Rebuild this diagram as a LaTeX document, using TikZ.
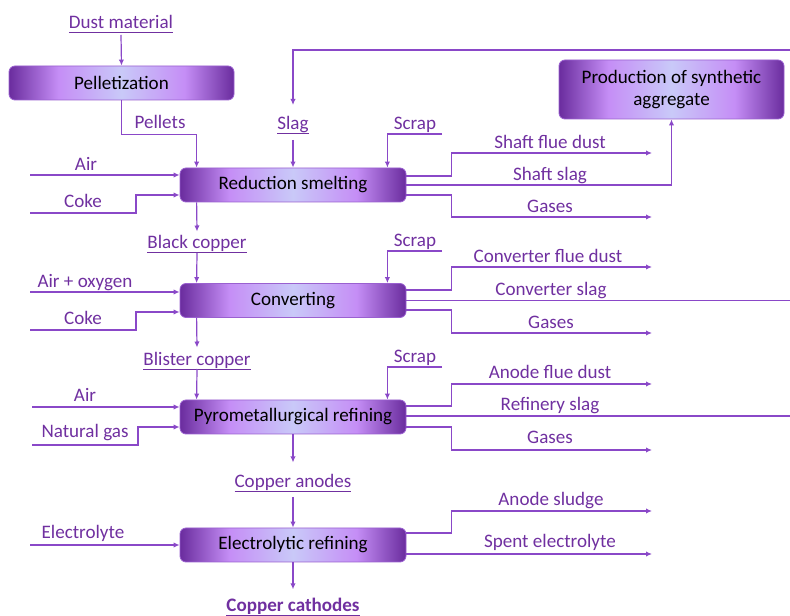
\documentclass[tikz,border=0pt]{standalone}
\usepackage{fontspec}
\setmainfont{Carlito}
\usetikzlibrary{arrows.meta,calc}
\definecolor{pline}{HTML}{8A48C8}
\definecolor{ptext}{HTML}{7030A0}
\definecolor{bdark}{HTML}{6A2C9E}
\definecolor{bviol}{HTML}{C58EF6}
\definecolor{blav}{HTML}{C9C9F8}
\definecolor{bborder}{HTML}{9A60D0}
\pgfdeclarehorizontalshading{procshade}{100bp}{color(0bp)=(bdark); color(25bp)=(bdark); color(36bp)=(bviol); color(50bp)=(blav); color(64bp)=(bviol); color(75bp)=(bdark); color(100bp)=(bdark)}
\newcommand\ulx[1]{\underline{\raisebox{0pt}[\height][0pt]{#1}\rule[-1.3pt]{0pt}{0pt}}}
\begin{document}
\begin{tikzpicture}[x=0.75pt,y=-0.75pt,
  font=\fontsize{14.3}{17}\selectfont,
  proc/.style={draw=bborder, line width=0.6pt, rounded corners=4.5pt, shading=procshade,
    minimum width=226*0.75pt, minimum height=34*0.75pt, text=black, inner sep=0pt},
  lab/.style={text=ptext, inner sep=0pt, anchor=base},
  flow/.style={draw=pline, line width=0.9pt},
  arr/.style={flow, -{Latex[length=4.5pt,width=4pt]}}]
\useasboundingbox (0,0) rectangle (790,616);

% process boxes
\node[proc, minimum width=225*0.75pt] (pel) at (121.5,83) {Pelletization};
\node[proc] (rs) at (293,185) {Reduction smelting};
\node[proc, minimum width=225*0.75pt, minimum height=59*0.75pt, align=center] (psa) at (671.5,89.5) {Production of synthetic\\aggregate};
\node[proc] (cv) at (293,300.5) {Converting};
\node[proc] (pr) at (293,417) {Pyrometallurgical refining};
\node[proc] (er) at (293,545) {Electrolytic refining};

% labels
\node[lab] (dust) at (121,29) {\ulx{Dust material}};
\node[lab] (pellets) at (160,129) {Pellets};
\node[lab] (slag) at (293,130) {\ulx{Slag}};
\node[lab] (scrap1) at (415,130) {Scrap};
\node[lab] (air1) at (86,171) {Air};
\node[lab] (coke1) at (83,208) {Coke};
\node[lab] (sfd) at (550,149) {Shaft flue dust};
\node[lab] (ss) at (550,181) {Shaft slag};
\node[lab] (gas1) at (550,213) {Gases};
\node[lab] (bc) at (197,249) {\ulx{Black copper}};
\node[lab] (scrap2) at (415,247) {Scrap};
\node[lab] (airox) at (85,288) {Air + oxygen};
\node[lab] (coke2) at (83,325) {Coke};
\node[lab] (cfd) at (548,263) {Converter flue dust};
\node[lab] (cs) at (551,296) {Converter slag};
\node[lab] (gas2) at (551,329) {Gases};
\node[lab] (blc) at (197,366) {\ulx{Blister copper}};
\node[lab] (scrap3) at (415,363) {Scrap};
\node[lab] (air3) at (85,402) {Air};
\node[lab] (ng) at (85,438) {Natural gas};
\node[lab] (afd) at (550,379) {Anode flue dust};
\node[lab] (rsl) at (550,411) {Refinery slag};
\node[lab] (gas3) at (550,444) {Gases};
\node[lab] (ca) at (293,488) {\ulx{Copper anodes}};
\node[lab] (elyte) at (83,539) {Electrolyte};
\node[lab] (asl) at (551,506) {Anode sludge};
\node[lab] (se) at (550,548) {Spent electrolyte};
\node[lab] (cc) at (293,612) {\bfseries\ulx{Copper cathodes}};

% free ends
\coordinate (fbR) at (790,50);
\coordinate (air1s) at (30,175);
\coordinate (coke1s) at (30,213);
\coordinate (sfdE) at (652,153);
\coordinate (g1E) at (652,217);
\coordinate (airoxs) at (30,292);
\coordinate (coke2s) at (30,330);
\coordinate (cfdE) at (652,267);
\coordinate (csE) at (790,300);
\coordinate (g2E) at (652,333);
\coordinate (air3s) at (32,407);
\coordinate (ngs) at (32,445);
\coordinate (afdE) at (652,384);
\coordinate (rslE) at (790,416);
\coordinate (g3E) at (652,450);
\coordinate (elys) at (30,545);
\coordinate (asE) at (652,511);
\coordinate (seE) at (652,554);

% pelletization
\draw[arr] ($(dust.base)+(0,6)$) -- (pel.north);
\draw[arr] (pel.south) -- ++(0,34) -| ($(rs.north west)+(17,0)$);
% reduction smelting inputs
\draw[arr] (fbR) -| ($(slag.base)+(0,-25)$);
\draw[arr] ($(slag.base)+(0,10)$) -- (rs.north);
\draw[arr] ($(scrap1.base)+(27,4)$) -| ($(rs.north east)+(-19,0)$);
\draw[arr] (air1s) -- (rs.west |- air1s);
\draw[arr] (coke1s) -- ++(106,0) |- ($(rs.west)+(0,10)$);
% reduction smelting outputs
\draw[arr] ($(rs.east)+(0,-9)$) -- ++(45,0) |- (sfdE);
\draw[arr] (rs.east) -| (psa.south);
\draw[arr] ($(rs.east)+(0,10)$) -- ++(45,0) |- (g1E);
% to converting
\draw[arr] ($(rs.south west)+(17,0)$) -- ($(bc.north)+(0,-4)$);
\draw[arr] ($(bc.base)+(0,4)$) -- ($(cv.north west)+(17,0)$);
\draw[arr] ($(scrap2.base)+(27,4)$) -| ($(cv.north east)+(-19,0)$);
\draw[arr] (airoxs) -- (cv.west |- airoxs);
\draw[arr] (coke2s) -- ++(106,0) |- ($(cv.west)+(0,11.5)$);
% converting outputs
\draw[arr] ($(cv.east)+(0,-10.5)$) -- ++(45,0) |- (cfdE);
\draw[flow] (cv.east) -- (cv.east -| csE);
\draw[arr] ($(cv.east)+(0,9.5)$) -- ++(45,0) |- (g2E);
% to refining
\draw[arr] ($(cv.south west)+(17,0)$) -- ($(blc.north)+(0,-5)$);
\draw[arr] ($(blc.base)+(0,3)$) -- ($(pr.north west)+(17,0)$);
\draw[arr] ($(scrap3.base)+(27,4)$) -| ($(pr.north east)+(-19,0)$);
\draw[arr] (air3s) -- (pr.west |- air3s);
\draw[arr] (ngs) -- ++(106,0) |- ($(pr.west)+(0,10)$);
% refining outputs
\draw[arr] ($(pr.east)+(0,-11)$) -- ++(45,0) |- (afdE);
\draw[flow] ($(pr.east)+(0,-1)$) -- (rslE);
\draw[arr] ($(pr.east)+(0,10)$) -- ++(45,0) |- (g3E);
% electrolytic refining
\draw[arr] (pr.south) -- ($(ca.north)+(0,-12)$);
\draw[arr] ($(ca.base)+(0,9)$) -- (er.north);
\draw[arr] (elys) -- (er.west);
\draw[arr] ($(er.east)+(0,-12)$) -- ++(45,0) |- (asE);
\draw[arr] ($(er.east)+(0,9)$) -- (seE);
\draw[arr] (er.south) -- ($(cc.north)+(0,-9)$);
\end{tikzpicture}
\end{document}
